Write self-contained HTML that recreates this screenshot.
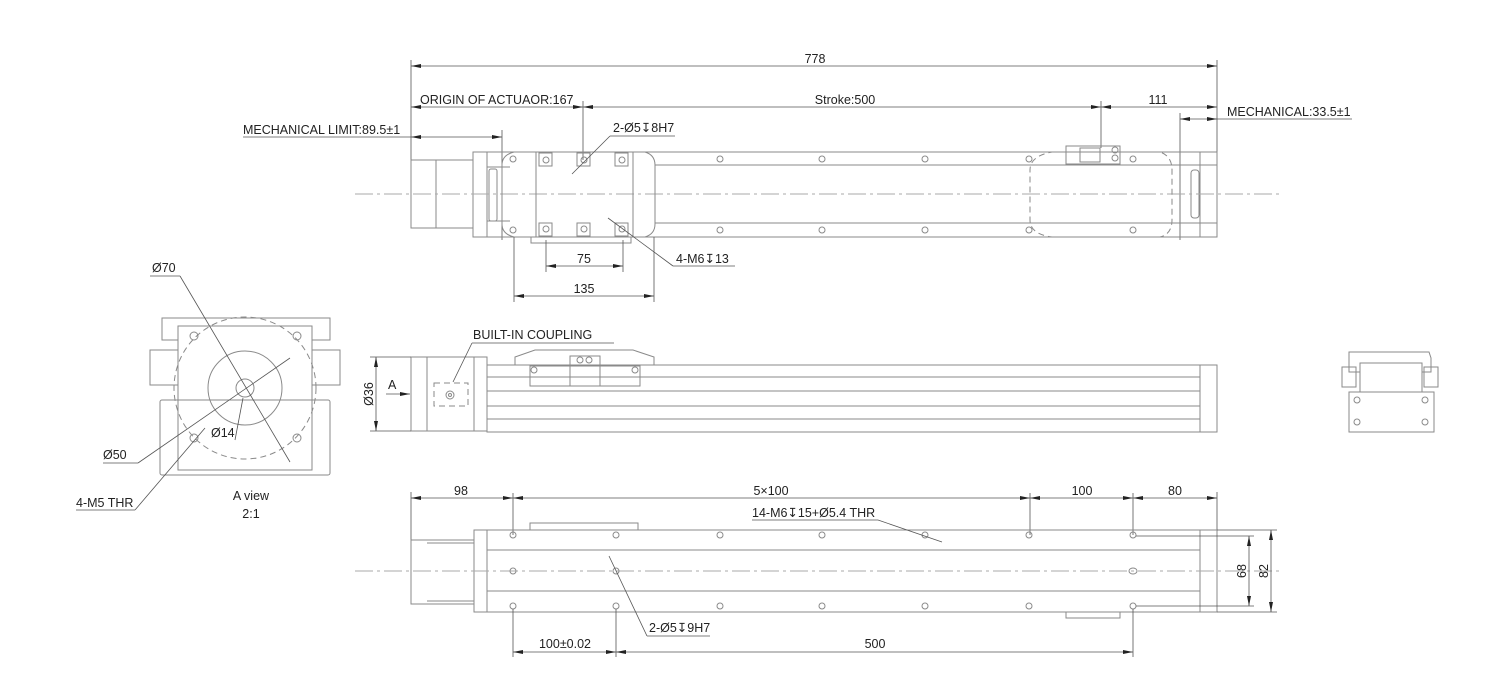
<!DOCTYPE html>
<html><head><meta charset="utf-8"><style>
html,body{margin:0;padding:0;background:#fff;}
svg{display:block;}
text{font-family:"Liberation Sans",sans-serif;font-size:12.5px;fill:#222;}
.l{stroke:#8a8a8a;stroke-width:1;fill:none;}
.d{stroke:#555;stroke-width:0.8;fill:none;}
.c{stroke:#aaa;stroke-width:1;fill:none;stroke-dasharray:18 4 3 4;}
.h{stroke:#8a8a8a;stroke-width:1;fill:none;stroke-dasharray:6 4;}
</style></head><body>
<svg width="1492" height="698" viewBox="0 0 1492 698" xmlns="http://www.w3.org/2000/svg">
<defs>
<marker id="a" viewBox="0 0 10 4" refX="10" refY="2" markerWidth="10" markerHeight="4" orient="auto-start-reverse" markerUnits="userSpaceOnUse"><path d="M0,0L10,2L0,4z" fill="#222"/></marker>
</defs>

<!-- ===== TOP VIEW ===== -->
<line class="d" x1="411" y1="60" x2="411" y2="160"/>
<line class="d" x1="1217" y1="60" x2="1217" y2="152"/>
<line class="d" x1="411" y1="66" x2="1217" y2="66" marker-start="url(#a)" marker-end="url(#a)"/>
<text x="815" y="63" text-anchor="middle">778</text>

<line class="d" x1="411" y1="107" x2="583" y2="107" marker-start="url(#a)" marker-end="url(#a)"/>
<line class="d" x1="583" y1="107" x2="1101" y2="107" marker-start="url(#a)" marker-end="url(#a)"/>
<line class="d" x1="1101" y1="107" x2="1217" y2="107" marker-start="url(#a)" marker-end="url(#a)"/>
<line class="d" x1="583" y1="101" x2="583" y2="160"/>
<line class="d" x1="1101" y1="101" x2="1101" y2="148"/>
<text x="420" y="104">ORIGIN OF ACTUAOR:167</text>
<text x="845" y="104" text-anchor="middle">Stroke:500</text>
<text x="1158" y="104" text-anchor="middle">111</text>

<text x="243" y="134">MECHANICAL LIMIT:89.5±1</text>
<line class="d" x1="243" y1="137" x2="411" y2="137"/>
<line class="d" x1="411" y1="137" x2="502" y2="137" marker-start="url(#a)" marker-end="url(#a)"/>
<line class="d" x1="502" y1="130" x2="502" y2="240"/>

<text x="1227" y="116">MECHANICAL:33.5±1</text>
<line class="d" x1="1217" y1="119" x2="1352" y2="119"/>
<line class="d" x1="1180" y1="119" x2="1217" y2="119" marker-start="url(#a)" marker-end="url(#a)"/>
<line class="d" x1="1180" y1="113" x2="1180" y2="240"/>

<!-- body -->
<rect class="l" x="411" y="160" width="62" height="68"/>
<line class="l" x1="436" y1="160" x2="436" y2="228"/>
<rect class="l" x="473" y="152" width="14" height="85"/>
<rect class="l" x="487" y="152" width="730" height="85"/>
<line class="l" x1="655" y1="165" x2="1200" y2="165"/>
<line class="l" x1="655" y1="223" x2="1200" y2="223"/>
<rect class="l" x="1200" y="152" width="17" height="85"/>
<line class="l" x1="1200" y1="165" x2="1217" y2="165"/>
<line class="l" x1="1200" y1="223" x2="1217" y2="223"/>
<rect class="l" x="1191" y="170" width="8" height="48" rx="3"/>
<rect class="l" x="489" y="169" width="8" height="52" rx="2"/>
<line class="l" x1="487" y1="167" x2="510" y2="167"/><line class="l" x1="487" y1="221" x2="510" y2="221"/>
<line class="c" x1="355" y1="194" x2="1280" y2="194"/>
<!-- carriage -->
<path class="l" d="M514,152 L645,152 Q655,155 655,165 L655,224 Q655,234 645,237 L514,237 Q502,234 502,224 L502,165 Q502,155 514,152Z"/>
<rect class="l" x="536" y="152" width="97" height="85"/>
<rect class="l" x="539" y="153" width="13" height="13"/><rect class="l" x="577" y="153" width="13" height="13"/><rect class="l" x="615" y="153" width="13" height="13"/>
<rect class="l" x="539" y="223" width="13" height="13"/><rect class="l" x="577" y="223" width="13" height="13"/><rect class="l" x="615" y="223" width="13" height="13"/>
<rect class="l" x="531" y="237" width="100" height="6"/>
<g class="l">
<circle cx="546" cy="160" r="3"/><circle cx="584" cy="160" r="3"/><circle cx="622" cy="160" r="3"/>
<circle cx="546" cy="229" r="3"/><circle cx="584" cy="229" r="3"/><circle cx="622" cy="229" r="3"/>
<circle cx="513" cy="159" r="3"/><circle cx="513" cy="230" r="3"/>
<circle cx="720" cy="159" r="3"/><circle cx="822" cy="159" r="3"/><circle cx="925" cy="159" r="3"/><circle cx="1029" cy="159" r="3"/><circle cx="1133" cy="159" r="3"/>
<circle cx="720" cy="230" r="3"/><circle cx="822" cy="230" r="3"/><circle cx="925" cy="230" r="3"/><circle cx="1029" cy="230" r="3"/><circle cx="1133" cy="230" r="3"/>
</g>
<path class="h" d="M1052,152 L1160,152 Q1172,156 1172,170 L1172,220 Q1172,234 1160,237 L1052,237 Q1030,234 1030,220 L1030,170 Q1030,156 1052,152Z"/>
<rect class="l" x="1066" y="146" width="54" height="18"/>
<rect class="l" x="1080" y="148" width="20" height="14"/>
<circle class="l" cx="1115" cy="150" r="3"/><circle class="l" cx="1115" cy="158" r="3"/>

<text x="613" y="132">2-Ø5↧8H7</text>
<line class="d" x1="610" y1="136" x2="675" y2="136"/>
<line class="d" x1="610" y1="136" x2="572" y2="174"/>
<text x="676" y="263">4-M6↧13</text>
<line class="d" x1="673" y1="266" x2="735" y2="266"/>
<line class="d" x1="673" y1="266" x2="608" y2="218"/>
<line class="d" x1="546" y1="240" x2="546" y2="272"/><line class="d" x1="623" y1="240" x2="623" y2="272"/>
<line class="d" x1="546" y1="266" x2="623" y2="266" marker-start="url(#a)" marker-end="url(#a)"/>
<text x="584" y="263" text-anchor="middle">75</text>
<line class="d" x1="514" y1="237" x2="514" y2="302"/><line class="d" x1="654" y1="237" x2="654" y2="302"/>
<line class="d" x1="514" y1="296" x2="654" y2="296" marker-start="url(#a)" marker-end="url(#a)"/>
<text x="584" y="293" text-anchor="middle">135</text>

<!-- ===== A VIEW ===== -->
<path class="l" d="M162,318 L330,318 L330,340 L312,340 L312,470 L178,470 L178,340 L162,340Z"/>
<rect class="l" x="178" y="326" width="134" height="144"/>
<rect class="l" x="160" y="400" width="170" height="75" rx="2"/>
<rect class="l" x="150" y="350" width="28" height="35"/><rect class="l" x="312" y="350" width="28" height="35"/>
<circle class="l" cx="245" cy="388" r="37"/>
<circle class="h" cx="245" cy="388" r="71"/>
<circle class="l" cx="245" cy="388" r="9"/>
<g class="l"><circle cx="194" cy="336" r="4"/><circle cx="297" cy="336" r="4"/><circle cx="194" cy="438" r="4"/><circle cx="297" cy="438" r="4"/></g>
<text x="152" y="272">Ø70</text>
<line class="d" x1="150" y1="276" x2="180" y2="276"/>
<line class="d" x1="180" y1="276" x2="290" y2="462"/>
<text x="103" y="459">Ø50</text>
<line class="d" x1="103" y1="463" x2="138" y2="463"/>
<line class="d" x1="138" y1="463" x2="290" y2="358"/>
<text x="211" y="437">Ø14</text>
<line class="d" x1="235" y1="440" x2="243" y2="398"/>
<text x="76" y="507">4-M5 THR</text>
<line class="d" x1="76" y1="510" x2="135" y2="510"/>
<line class="d" x1="135" y1="510" x2="205" y2="428"/>
<text x="251" y="500" text-anchor="middle">A view</text>
<text x="251" y="518" text-anchor="middle">2:1</text>

<!-- ===== SIDE VIEW ===== -->
<rect class="l" x="411" y="357" width="63" height="74"/>
<line class="l" x1="427" y1="357" x2="427" y2="431"/>
<rect class="l" x="474" y="357" width="13" height="74"/>
<rect class="l" x="487" y="365" width="730" height="67"/>
<line class="l" x1="487" y1="377" x2="1200" y2="377"/>
<line class="l" x1="487" y1="391" x2="1200" y2="391"/>
<line class="l" x1="487" y1="406" x2="1200" y2="406"/>
<line class="l" x1="487" y1="419" x2="1200" y2="419"/>
<rect class="l" x="1200" y="365" width="17" height="67"/>
<path class="l" d="M515,365 L515,357 L535,350 L633,350 L654,357 L654,365"/>
<rect class="l" x="530" y="366" width="110" height="20"/>
<rect class="l" x="570" y="356" width="30" height="30"/>
<circle class="l" cx="580" cy="360" r="3"/><circle class="l" cx="589" cy="360" r="3"/>
<circle class="l" cx="534" cy="370" r="3"/><circle class="l" cx="635" cy="370" r="3"/>
<rect class="h" x="434" y="383" width="34" height="23"/>
<circle class="l" cx="450" cy="395" r="4"/><circle class="l" cx="450" cy="395" r="1.5"/>
<text x="473" y="339">BUILT-IN COUPLING</text>
<line class="d" x1="472" y1="343" x2="614" y2="343"/>
<line class="d" x1="472" y1="343" x2="453" y2="382"/>
<line class="d" x1="370" y1="357" x2="411" y2="357"/><line class="d" x1="370" y1="431" x2="411" y2="431"/>
<line class="d" x1="376" y1="357" x2="376" y2="431" marker-start="url(#a)" marker-end="url(#a)"/>
<text x="0" y="0" transform="translate(373,394) rotate(-90)" text-anchor="middle">Ø36</text>
<text x="388" y="389">A</text>
<line class="d" x1="386" y1="394" x2="410" y2="394" marker-end="url(#a)"/>

<!-- end view right -->
<path class="l" d="M1349,352 L1429,352 L1431,358 L1431,372 L1422,372 L1422,363 L1360,363 L1360,372 L1349,372Z"/>
<rect class="l" x="1342" y="367" width="14" height="20"/><rect class="l" x="1424" y="367" width="14" height="20"/>
<rect class="l" x="1349" y="392" width="85" height="40"/>
<line class="l" x1="1360" y1="363" x2="1360" y2="392"/><line class="l" x1="1422" y1="363" x2="1422" y2="392"/>
<g class="l"><circle cx="1357" cy="400" r="3"/><circle cx="1425" cy="400" r="3"/><circle cx="1357" cy="422" r="3"/><circle cx="1425" cy="422" r="3"/></g>

<!-- ===== BOTTOM VIEW ===== -->
<line class="d" x1="411" y1="492" x2="411" y2="540"/>
<line class="d" x1="513" y1="493" x2="513" y2="535"/>
<line class="d" x1="1030" y1="493" x2="1030" y2="535"/>
<line class="d" x1="1133" y1="493" x2="1133" y2="535"/>
<line class="d" x1="1217" y1="492" x2="1217" y2="530"/>
<line class="d" x1="411" y1="498" x2="513" y2="498" marker-start="url(#a)" marker-end="url(#a)"/>
<line class="d" x1="513" y1="498" x2="1030" y2="498" marker-start="url(#a)" marker-end="url(#a)"/>
<line class="d" x1="1030" y1="498" x2="1133" y2="498" marker-start="url(#a)" marker-end="url(#a)"/>
<line class="d" x1="1133" y1="498" x2="1217" y2="498" marker-start="url(#a)" marker-end="url(#a)"/>
<text x="461" y="495" text-anchor="middle">98</text>
<text x="771" y="495" text-anchor="middle">5×100</text>
<text x="1082" y="495" text-anchor="middle">100</text>
<text x="1175" y="495" text-anchor="middle">80</text>

<rect class="l" x="411" y="540" width="63" height="64"/>
<line class="l" x1="427" y1="543" x2="474" y2="543"/><line class="l" x1="427" y1="601" x2="474" y2="601"/>
<rect class="l" x="474" y="530" width="13" height="82"/>
<rect class="l" x="487" y="530" width="730" height="82"/>
<line class="l" x1="487" y1="550" x2="1200" y2="550"/>
<line class="l" x1="487" y1="591" x2="1200" y2="591"/>
<rect class="l" x="1200" y="530" width="17" height="82"/>
<rect class="l" x="530" y="523" width="108" height="7"/>
<rect class="l" x="1066" y="612" width="54" height="6"/>
<line class="c" x1="355" y1="571" x2="1280" y2="571"/>
<g class="l">
<circle cx="513" cy="535" r="3"/><circle cx="616" cy="535" r="3"/><circle cx="720" cy="535" r="3"/><circle cx="822" cy="535" r="3"/><circle cx="925" cy="535" r="3"/><circle cx="1029" cy="535" r="3"/><circle cx="1133" cy="535" r="3"/>
<circle cx="513" cy="571" r="3"/><circle cx="616" cy="571" r="3"/><ellipse cx="1133" cy="571" rx="4" ry="3"/>
<circle cx="513" cy="606" r="3"/><circle cx="616" cy="606" r="3"/><circle cx="720" cy="606" r="3"/><circle cx="822" cy="606" r="3"/><circle cx="925" cy="606" r="3"/><circle cx="1029" cy="606" r="3"/><circle cx="1133" cy="606" r="3"/>
</g>
<line class="d" x1="1136" y1="536" x2="1254" y2="536"/><line class="d" x1="1136" y1="606" x2="1254" y2="606"/>
<line class="d" x1="1217" y1="530" x2="1277" y2="530"/><line class="d" x1="1217" y1="612" x2="1277" y2="612"/>
<line class="d" x1="1249" y1="536" x2="1249" y2="606" marker-start="url(#a)" marker-end="url(#a)"/>
<line class="d" x1="1271" y1="530" x2="1271" y2="612" marker-start="url(#a)" marker-end="url(#a)"/>
<text x="0" y="0" transform="translate(1246,571) rotate(-90)" text-anchor="middle">68</text>
<text x="0" y="0" transform="translate(1268,571) rotate(-90)" text-anchor="middle">82</text>

<text x="752" y="517">14-M6↧15+Ø5.4 THR</text>
<line class="d" x1="752" y1="520" x2="878" y2="520"/>
<line class="d" x1="878" y1="520" x2="942" y2="542"/>
<text x="649" y="632">2-Ø5↧9H7</text>
<line class="d" x1="647" y1="636" x2="710" y2="636"/>
<line class="d" x1="647" y1="636" x2="609" y2="556"/>
<line class="d" x1="513" y1="609" x2="513" y2="657"/>
<line class="d" x1="616" y1="609" x2="616" y2="657"/>
<line class="d" x1="1133" y1="609" x2="1133" y2="657"/>
<line class="d" x1="513" y1="652" x2="616" y2="652" marker-start="url(#a)" marker-end="url(#a)"/>
<line class="d" x1="616" y1="652" x2="1133" y2="652" marker-start="url(#a)" marker-end="url(#a)"/>
<text x="565" y="648" text-anchor="middle">100±0.02</text>
<text x="875" y="648" text-anchor="middle">500</text>
</svg>
</body></html>
